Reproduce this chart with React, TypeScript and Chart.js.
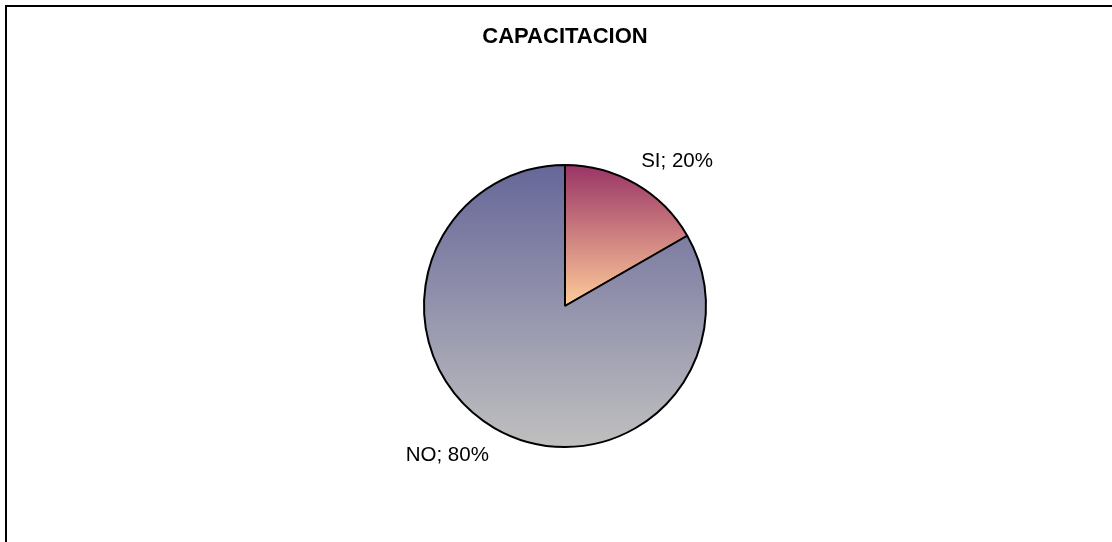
import React, { useEffect, useRef } from "react";
import { Chart, registerables } from "chart.js";

Chart.register(...registerables);

const titleText = "CAPACITACION";
const categories = ["SI", "NO"];
// slice sizes as drawn in the picture
const values = [16.7, 83.3];
// percentages as printed on the labels
const percentLabels = ["20%", "80%"];

const FONT = '"Liberation Sans", Arial, Helvetica, sans-serif';

const framePlugin = {
  id: "frame",
  beforeDraw(chart: any) {
    const ctx = chart.ctx;
    ctx.save();
    ctx.fillStyle = "#ffffff";
    ctx.fillRect(0, 0, chart.width, chart.height);
    ctx.strokeStyle = "#000000";
    ctx.lineWidth = 2;
    ctx.strokeRect(6, 6, chart.width + 20, chart.height + 20);
    ctx.restore();
  },
};

const labelPlugin = {
  id: "sliceLabels",
  afterDatasetsDraw(chart: any) {
    const ctx = chart.ctx;
    const meta = chart.getDatasetMeta(0);
    ctx.save();
    ctx.font = `20.5px ${FONT}`;
    ctx.fillStyle = "#000000";
    ctx.textBaseline = "alphabetic";
    meta.data.forEach((arc: any, i: number) => {
      const { x, y, startAngle, endAngle, outerRadius } = arc.getProps(
        ["x", "y", "startAngle", "endAngle", "outerRadius"],
        true
      );
      const mid = (startAngle + endAngle) / 2;
      const r = outerRadius + 11;
      const ax = x + Math.cos(mid) * r;
      const ay = y + Math.sin(mid) * r;
      ctx.textAlign = Math.cos(mid) >= 0 ? "left" : "right";
      const by = Math.sin(mid) < 0 ? ay - 7 : ay + 23;
      ctx.fillText(`${categories[i]}; ${percentLabels[i]}`, ax, by);
    });
    ctx.restore();
  },
};

const topColors = ["#993366", "#666699"];
const bottomColors = ["#FFCC99", "#C0C0C0"];

export default function App() {
  const ref = useRef<HTMLCanvasElement | null>(null);

  useEffect(() => {
    document.body.style.margin = "0";
    if (!ref.current) return;
    const chart = new Chart(ref.current, {
      type: "pie",
      data: {
        labels: categories,
        datasets: [
          {
            data: values,
            borderColor: "#000000",
            borderWidth: 2,
            backgroundColor: (c: any) => {
              const ch = c.chart;
              const area = ch.chartArea;
              if (!area) return topColors[c.dataIndex];
              const cy = (area.top + area.bottom) / 2;
              const r = (area.bottom - area.top) / 2;
              const g = ch.ctx.createLinearGradient(
                0,
                cy - r,
                0,
                c.dataIndex === 0 ? cy : cy + r
              );
              g.addColorStop(0, topColors[c.dataIndex]);
              g.addColorStop(1, bottomColors[c.dataIndex]);
              return g;
            },
          },
        ],
      },
      options: {
        responsive: false,
        animation: false,
        layout: { padding: { top: 0, bottom: 94, left: 100, right: 82 } },
        plugins: {
          legend: { display: false },
          tooltip: { enabled: false },
          title: {
            display: true,
            text: titleText,
            color: "#000000",
            font: { family: FONT, size: 22, weight: "bold", lineHeight: 1.2 },
            padding: { top: 23.4, bottom: 114.2 },
          },
        },
      },
      plugins: [framePlugin, labelPlugin],
    });
    return () => chart.destroy();
  }, []);

  return (
    <div style={{ width: 1112, height: 542 }}>
      <canvas ref={ref} width={1112} height={542} style={{ display: "block" }} />
    </div>
  );
}
